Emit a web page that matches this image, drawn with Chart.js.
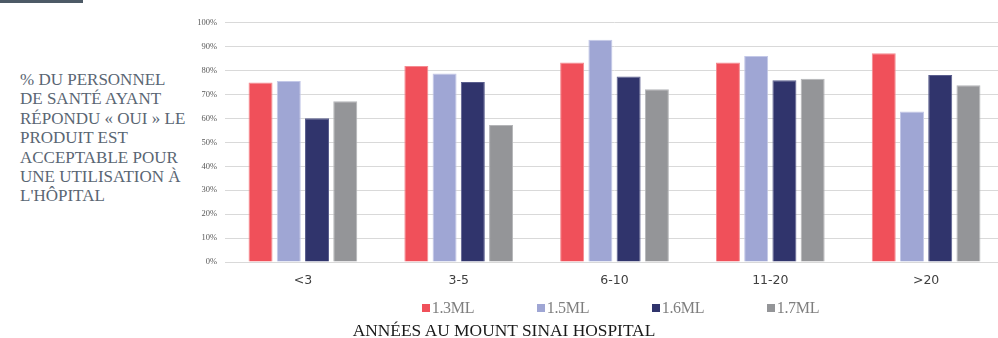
<!DOCTYPE html>
<html>
<head>
<meta charset="utf-8">
<script src="https://cdn.jsdelivr.net/npm/chart.js@4/dist/chart.umd.min.js"></script>
<style>
  html, body { margin: 0; padding: 0; background: #fff; overflow: hidden; }
  body { width: 998px; height: 338px; position: relative; }
  #fig { position: absolute; left: 0; top: -20px; width: 83px; height: 20px; border-bottom: 3.5px solid #4d5a66;
         font: bold 17px "Liberation Serif", serif; color: #4d5a66; line-height: 20px; }
  #wrap { position: absolute; left: 0; top: 0; width: 1010px; height: 338px; }
  #ytitle { position: absolute; left: 20px; top: 70px; font: 17px "Liberation Serif", serif; color: #5a6673;
            line-height: 19.4px; white-space: pre; }
  #legend { position: absolute; top: 298px; left: 0; width: 998px; height: 20px; }
  .item { position: absolute; top: 0; font: 16px "Liberation Serif", serif; color: #7f7f7f; line-height: 20px; white-space: nowrap; letter-spacing: -0.3px; }
  .item i { display: inline-block; width: 8px; height: 8px; margin-right: 2px; vertical-align: 1px; }
  #xtitle { position: absolute; top: 320px; left: 0; width: 1008px; text-align: center;
            font: 17.4px "Liberation Serif", serif; color: #1a1a1a; line-height: 20px; }
</style>
</head>
<body>
<div id="fig">Figure 2</div>
<div id="ytitle"></div>
<div id="wrap"><canvas id="c"></canvas></div>
<div id="legend"></div>
<div id="xtitle"></div>
<script>
// Years of service at the hospital
const categories = ['<3', '3-5', '6-10', '11-20', '>20'];

// Share of staff answering "yes" (%), one array per volume
const seriesNames = ['1.3ML', '1.5ML', '1.6ML', '1.7ML'];
const v13 = [75.0, 81.9, 83.4, 83.4, 87.2];
const v15 = [75.6, 78.8, 92.9, 86.1, 62.9];
const v16 = [60.1, 75.2, 77.5, 76.0, 78.1];
const v17 = [67.2, 57.2, 72.2, 76.6, 73.9];

const yTicks = [0, 10, 20, 30, 40, 50, 60, 70, 80, 90, 100];

const yTitleLines = ['% DU PERSONNEL', 'DE SANTÉ AYANT', 'RÉPONDU « OUI » LE', 'PRODUIT EST',
                     'ACCEPTABLE POUR', 'UNE UTILISATION À', "L'HÔPITAL"];
const xTitle = 'ANNÉES AU MOUNT SINAI HOSPITAL';

const fills = ['#f0505a', '#9fa6d4', '#30346c', '#949598'];
const edges = ['#f58a90', '#c3c8e8', '#5a5e8e', '#b4b5b8'];

document.getElementById('ytitle').textContent = yTitleLines.join('\n');
document.getElementById('xtitle').textContent = xTitle;

const legend = document.getElementById('legend');
seriesNames.forEach((name, i) => {
  const d = document.createElement('div');
  d.className = 'item';
  d.style.left = (421.7 + i * 115) + 'px';
  const sw = document.createElement('i');
  sw.style.background = fills[i];
  d.appendChild(sw);
  d.appendChild(document.createTextNode(name));
  legend.appendChild(d);
});

const values = [v13, v15, v16, v17];

new Chart(document.getElementById('c'), {
  type: 'bar',
  data: {
    labels: categories,
    datasets: seriesNames.map((name, i) => ({
      label: name,
      data: values[i],
      backgroundColor: fills[i],
      borderColor: edges[i],
      borderWidth: 1,
      categoryPercentage: 0.725,
      barPercentage: 0.85
    }))
  },
  options: {
    responsive: true,
    maintainAspectRatio: false,
    animation: false,
    layout: { padding: { left: 185, right: 6, top: 22.7, bottom: 0 } },
    plugins: { legend: { display: false }, title: { display: false }, tooltip: { enabled: false } },
    scales: {
      x: {
        grid: { display: false },
        border: { display: true, color: '#d9d9d9', width: 1 },
        ticks: { color: '#404040', font: { family: 'DejaVu Sans', size: 12.5 }, padding: 3 },
        afterFit: s => { s.height = 76; }
      },
      y: {
        min: 0, max: 100,
        afterFit: s => { s.width = 40; },
        afterBuildTicks: s => { s.ticks = yTicks.map(v => ({ value: v })); },
        border: { display: false },
        grid: { color: '#d9d9d9', lineWidth: 1, drawTicks: false },
        ticks: {
          padding: 8,
          color: '#595959',
          font: { family: 'Liberation Serif', size: 8.5 },
          callback: v => v + '%'
        }
      }
    }
  }
});
</script>
</body>
</html>
